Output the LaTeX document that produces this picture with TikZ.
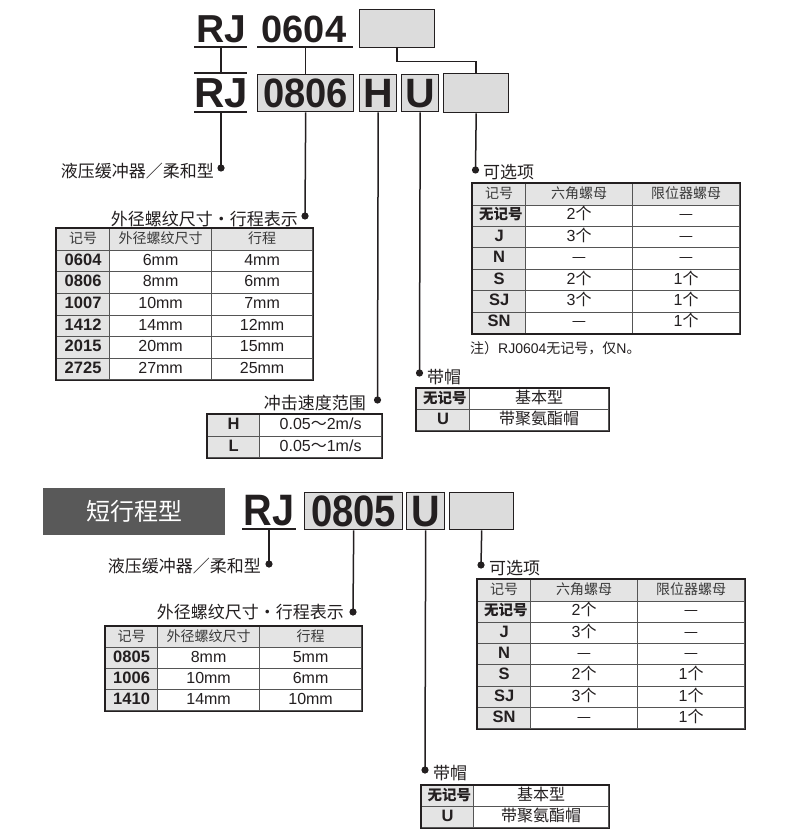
\documentclass[tikz,border=0pt]{standalone}
\usepackage{fontspec}
\usepackage{graphicx}
\setmainfont{Liberation Sans}
\newfontfamily\cjkf{Noto Sans CJK SC}
\newcommand\zh[1]{{\cjkf #1}}
\newcommand\zhb[1]{{\cjkf\fs{14.5} #1}}
\newcommand\fs[1]{\fontsize{#1}{#1}\selectfont}
\usetikzlibrary{matrix}
\definecolor{ink}{HTML}{231F20}
\definecolor{boxg}{HTML}{DCDCDC}
\definecolor{cellg}{HTML}{E4E4E4}
\definecolor{gridc}{HTML}{555555}
\definecolor{bann}{HTML}{595959}
\definecolor{hdt}{HTML}{3A3A3A}
\tikzset{
 big/.style={inner sep=0pt, text=ink},
 gbox/.style={draw=ink, fill=boxg, line width=1.4pt, inner sep=0pt, anchor=north west, text=ink},
 conn/.style={draw=ink, line width=1.5pt},
 ttl/.style={inner sep=0pt, font=\cjkf\fs{17}, text=ink},
 tbl/.style={matrix of nodes, anchor=north west, inner sep=0pt, row sep=-0.8pt, column sep=-0.8pt,
   nodes={draw=gridc, line width=0.8pt, minimum height=#1, inner sep=0pt, anchor=center,
          text height=11.5pt, text depth=3pt, font=\fs{16}, text=ink}},
 hdrow/.style={nodes={fill=cellg, font=\cjkf\fs{14}, text=hdt}},
 c1/.style={nodes={fill=cellg, font=\bfseries\fs{16.5}, minimum width=#1}},
 cw/.style={nodes={minimum width=#1}},
 frame/.style={draw=ink, line width=1.2pt},
}
\begin{document}
\begin{tikzpicture}[x=1pt,y=-1pt]
\fill[white] (0,0) rectangle (790,837);
\useasboundingbox (0,0) rectangle (790,837);

% ---------- top section ----------
\node[big, font=\bfseries\fs{39}, anchor=base] (rj1) at (221,43) {RJ};
\node[big, font=\bfseries\fs{38}, anchor=base] (n0604) at (304,43) {0604};
\node[gbox, minimum width=75pt, minimum height=38pt] (a1) at (359,9) {};
\coordinate (u1l) at (194,47); \coordinate (u1r) at (247,47);
\coordinate (u2l) at (257,47); \coordinate (u2r) at (353,47);
\draw[conn] (u1l) -- (u1r);
\draw[conn] (u2l) -- (u2r);

\node[big, font=\bfseries\fs{42}, anchor=base] (rj2) at (221,108) {RJ};
\coordinate (o3l) at (194,73); \coordinate (o3r) at (247,73);
\coordinate (u3l) at (194,112); \coordinate (u3r) at (247,112);
\draw[conn] (o3l) -- (o3r);
\draw[conn] (u3l) -- (u3r);
\node[gbox, minimum width=96pt, minimum height=37pt, font=\bfseries\fs{41}] (b0806) at (257,74) {\scalebox{0.93}[1]{0806}};
\node[gbox, minimum width=37pt, minimum height=37pt, font=\bfseries\fs{41}] (bH) at (359,74) {H};
\node[gbox, minimum width=37pt, minimum height=37pt, font=\bfseries\fs{41}] (bU) at (401,74) {U};
\node[gbox, minimum width=65pt, minimum height=39pt] (a2) at (443,73) {};

\draw[conn] (rj1 |- u1l) -- (rj1 |- o3l);
\draw[conn] (b0806.north |- u2l) -- (b0806.north);
\draw[conn] (a1.south) -- ++(0,13) -| (a2.north);

\coordinate (d1) at (221,168);
\coordinate (d2) at (305,216);
\coordinate (d3) at (377.5,400);
\coordinate (d4) at (419.5,373);
\coordinate (d5) at (475.5,170);
\draw[conn] (rj2 |- u3l) -- (d1);
\draw[conn] (b0806.south) -- (d2);
\draw[conn] (bH.south) -- (d3);
\draw[conn] (bU.south) -- (d4);
\draw[conn] (a2.south) -- (d5);
\foreach \d in {d1,d2,d3,d4,d5} \fill[ink] (\d) circle (3.6pt);

\node[ttl, anchor=east] (th1) at (214,171) {液压缓冲器／柔和型};
\node[ttl, anchor=east] (tw1) at (298,219) {外径螺纹尺寸・行程表示};
\node[ttl, anchor=west] (to1) at (483,172) {可选项};
\node[ttl, anchor=east] (tsp) at (366,403) {冲击速度范围};
\node[ttl, anchor=west] (tc1) at (427,377) {带帽};

\matrix[tbl=21.6pt, column 1/.style={c1=53pt}, column 2/.style={cw=102pt}, column 3/.style={cw=101pt}, row 1/.style={hdrow}] (t1) at (56,228) {
记号 & 外径螺纹尺寸 & 行程 \\
0604 & 6mm & 4mm \\
0806 & 8mm & 6mm \\
1007 & 10mm & 7mm \\
1412 & 14mm & 12mm \\
2015 & 20mm & 15mm \\
2725 & 27mm & 25mm \\
};
\draw[frame] (t1.north west) rectangle (t1.south east);

\matrix[tbl=21.4pt, column 1/.style={c1=53pt}, column 2/.style={cw=107pt}, column 3/.style={cw=107pt}, row 1/.style={hdrow}] (t2) at (472,183) {
记号 & 六角螺母 & 限位器螺母 \\
\zhb{无记号} & 2\zh{个} & \zh{—} \\
J & 3\zh{个} & \zh{—} \\
N & \zh{—} & \zh{—} \\
S & 2\zh{个} & 1\zh{个} \\
SJ & 3\zh{个} & 1\zh{个} \\
SN & \zh{—} & 1\zh{个} \\
};
\draw[frame] (t2.north west) rectangle (t2.south east);
\node[anchor=west, inner sep=0pt, font=\fs{14}, text=ink] (note) at (470,348) {\zh{注）}RJ0604\zh{无记号，仅}N\zh{。}};

\matrix[tbl=21.5pt, column 1/.style={c1=52pt}, column 2/.style={cw=122pt}] (t3) at (207,414) {
H & 0.05\zh{～}2m/s \\
L & 0.05\zh{～}1m/s \\
};
\draw[frame] (t3.north west) rectangle (t3.south east);

\matrix[tbl=21pt, column 1/.style={c1=53pt}, column 2/.style={cw=139pt}] (t4) at (416,388) {
\zhb{无记号} & \zh{基本型} \\
U & \zh{带聚氨酯帽} \\
};
\draw[frame] (t4.north west) rectangle (t4.south east);

% ---------- bottom section ----------
\node[fill=bann, minimum width=182pt, minimum height=47pt, anchor=north west, inner sep=0pt, text=white, font=\cjkf\fs{24}] (ban) at (43,488) {短行程型};
\node[big, font=\bfseries\fs{44}, anchor=base] (rj3) at (269,525) {\scalebox{0.9}[1]{RJ}};
\coordinate (u4l) at (242,529); \coordinate (u4r) at (296,529);
\draw[conn] (u4l) -- (u4r);
\node[gbox, minimum width=98pt, minimum height=37pt, font=\bfseries\fs{44}] (b0805) at (304,492) {\scalebox{0.87}[1]{0805}};
\node[gbox, minimum width=38pt, minimum height=37pt, font=\bfseries\fs{44}] (bU2) at (406,492) {\scalebox{0.9}[1]{U}};
\node[gbox, minimum width=64pt, minimum height=37pt] (a3) at (449,492) {};

\coordinate (e1) at (269,564);
\coordinate (e2) at (353,612);
\coordinate (e3) at (425,770);
\coordinate (e4) at (481,565);
\draw[conn] (rj3 |- u4l) -- (e1);
\draw[conn] (b0805.south) -- (e2);
\draw[conn] (bU2.south) -- (e3);
\draw[conn] (a3.south) -- (e4);
\foreach \d in {e1,e2,e3,e4} \fill[ink] (\d) circle (3.6pt);

\node[ttl, anchor=east] (th2) at (261,566) {液压缓冲器／柔和型};
\node[ttl, anchor=east] (tw2) at (344,612) {外径螺纹尺寸・行程表示};
\node[ttl, anchor=west] (to2) at (489,568) {可选项};
\node[ttl, anchor=west] (tc2) at (433,773) {带帽};

\matrix[tbl=21pt, column 1/.style={c1=52pt}, column 2/.style={cw=102pt}, column 3/.style={cw=102pt}, row 1/.style={hdrow}] (t5) at (105,626) {
记号 & 外径螺纹尺寸 & 行程 \\
0805 & 8mm & 5mm \\
1006 & 10mm & 6mm \\
1410 & 14mm & 10mm \\
};
\draw[frame] (t5.north west) rectangle (t5.south east);

\matrix[tbl=21.3pt, column 1/.style={c1=53pt}, column 2/.style={cw=107pt}, column 3/.style={cw=107pt}, row 1/.style={hdrow}] (t6) at (477,579) {
记号 & 六角螺母 & 限位器螺母 \\
\zhb{无记号} & 2\zh{个} & \zh{—} \\
J & 3\zh{个} & \zh{—} \\
N & \zh{—} & \zh{—} \\
S & 2\zh{个} & 1\zh{个} \\
SJ & 3\zh{个} & 1\zh{个} \\
SN & \zh{—} & 1\zh{个} \\
};
\draw[frame] (t6.north west) rectangle (t6.south east);

\matrix[tbl=21pt, column 1/.style={c1=52pt}, column 2/.style={cw=135pt}] (t7) at (421,785) {
\zhb{无记号} & \zh{基本型} \\
U & \zh{带聚氨酯帽} \\
};
\draw[frame] (t7.north west) rectangle (t7.south east);
\end{tikzpicture}
\end{document}
